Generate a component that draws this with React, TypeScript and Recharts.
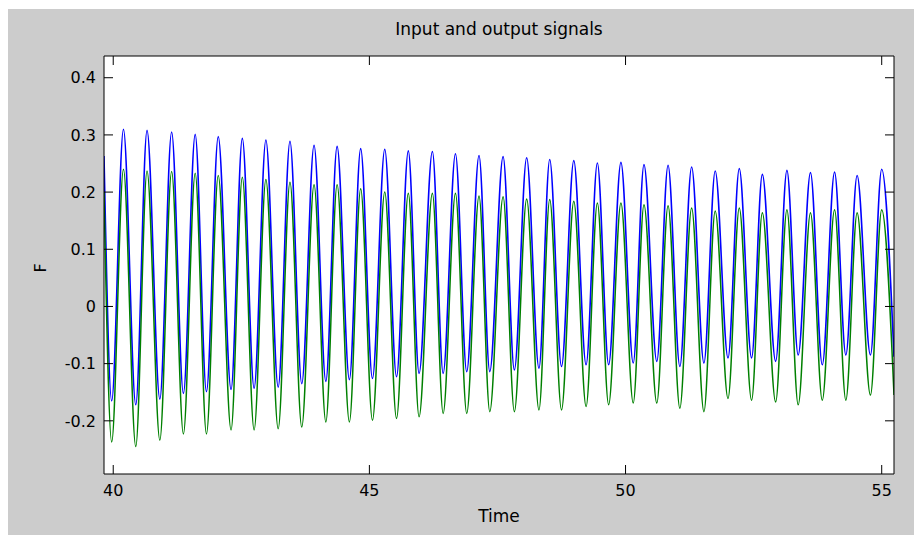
import React from 'react';
import { LineChart, Line, XAxis, YAxis, CartesianGrid } from 'recharts';

// Turning points (peaks / troughs), time in seconds
const times = [
  39.82, 39.97, 40.2, 40.44, 40.66, 40.91, 41.14, 41.37, 41.6, 41.82, 42.05, 42.3, 42.52, 42.75, 42.98,
  43.22, 43.45, 43.68, 43.92, 44.15, 44.37, 44.61, 44.83, 45.06, 45.3, 45.53, 45.76, 45.97, 46.23, 46.44,
  46.68, 46.9, 47.14, 47.35, 47.61, 47.83, 48.07, 48.31, 48.52, 48.75, 48.99, 49.23, 49.45, 49.67, 49.91,
  50.15, 50.36, 50.61, 50.83, 51.06, 51.29, 51.53, 51.75, 52.0, 52.22, 52.46, 52.67, 52.93, 53.15, 53.37,
  53.61, 53.84, 54.08, 54.3, 54.52, 54.78, 55.0, 55.24,
];

const inputSignal = [
  0.263,
  -0.165, 0.31, -0.172, 0.308, -0.162, 0.305, -0.152, 0.301, -0.149, 0.297, -0.145, 0.294,
  -0.143, 0.291, -0.141, 0.289, -0.135, 0.282, -0.131, 0.28, -0.128, 0.276, -0.126, 0.275,
  -0.123, 0.272, -0.117, 0.271, -0.117, 0.267, -0.114, 0.264, -0.114, 0.262, -0.111, 0.26,
  -0.108, 0.257, -0.105, 0.255, -0.102, 0.251, -0.102, 0.252, -0.099, 0.248, -0.096, 0.247,
  -0.105, 0.244, -0.099, 0.237, -0.09, 0.241, -0.09, 0.231, -0.096, 0.238, -0.085, 0.234,
  -0.102, 0.235, -0.085, 0.229, -0.085, 0.24,
  -0.088,
];

const outputSignal = [
  0.2,
  -0.237, 0.24, -0.245, 0.237, -0.234, 0.236, -0.223, 0.233, -0.223, 0.229, -0.216, 0.226,
  -0.216, 0.222, -0.214, 0.217, -0.211, 0.213, -0.202, 0.213, -0.202, 0.206, -0.199, 0.2,
  -0.196, 0.198, -0.193, 0.198, -0.187, 0.198, -0.187, 0.193, -0.184, 0.192, -0.184, 0.188,
  -0.181, 0.187, -0.181, 0.184, -0.175, 0.181, -0.172, 0.181, -0.169, 0.178, -0.169, 0.176,
  -0.178, 0.172, -0.184, 0.167, -0.161, 0.172, -0.164, 0.164, -0.167, 0.169, -0.172, 0.164,
  -0.164, 0.169, -0.164, 0.164, -0.155, 0.169,
  -0.155,
];

const xTicks = [40, 45, 50, 55];
const yTicks = [-0.2, -0.1, 0, 0.1, 0.2, 0.3, 0.4];
const xDomain = [39.82, 55.24];
const yDomain = [-0.293, 0.438];

const titleText = 'Input and output signals';
const xLabelText = 'Time';
const yLabelText = 'F';

const data = times.map((t, i) => ({ t, input: inputSignal[i], output: outputSignal[i] }));

const FONT = '"DejaVu Sans", sans-serif';
const tickStyle = { fontFamily: FONT, fontSize: 16, fill: '#000' };
const labelStyle = { fontFamily: FONT, fontSize: 17, fill: '#000' };

const yFmt = (v: number) => (Math.abs(v) < 1e-9 ? '0' : v.toFixed(1));
const blank = () => '';

const YLabel = (props: any) => {
  const vb = props.viewBox || {};
  const cx = vb.x - 4;
  const cy = vb.y + vb.height / 2 + 3;
  return (
    <text
      x={cx}
      y={cy}
      transform={`rotate(-90 ${cx} ${cy})`}
      textAnchor="middle"
      dominantBaseline="central"
      fontFamily={FONT}
      fontSize={16}
      fill="#000"
    >
      {yLabelText}
    </text>
  );
};

export default function App() {
  return (
    <div style={{ marginTop: 1, width: 914, height: 526, background: '#cccccc' }}>
      <LineChart
        width={914}
        height={526}
        data={data}
        margin={{ top: 37, right: 18, bottom: 11, left: 36 }}
      >
        <CartesianGrid horizontal={false} vertical={false} fill="#ffffff" stroke="none" />
        <XAxis
          xAxisId="bottom"
          dataKey="t"
          type="number"
          domain={xDomain}
          allowDataOverflow
          ticks={xTicks}
          interval={0}
          orientation="bottom"
          height={50}
          tickSize={-9}
          tickMargin={20}
          stroke="#000"
          tick={tickStyle}
          tickLine={{ stroke: '#000' }}
          axisLine={{ stroke: '#000' }}
          label={{ value: xLabelText, position: 'insideBottom', offset: 2, style: labelStyle }}
        />
        <XAxis
          xAxisId="top"
          dataKey="t"
          type="number"
          domain={xDomain}
          allowDataOverflow
          ticks={xTicks}
          interval={0}
          orientation="top"
          height={10}
          tickSize={-9}
          tickFormatter={blank}
          stroke="#000"
          tickLine={{ stroke: '#000' }}
          axisLine={{ stroke: '#000' }}
          label={{ value: titleText, position: 'top', offset: 11, style: labelStyle }}
        />
        <YAxis
          yAxisId="left"
          type="number"
          domain={yDomain}
          allowDataOverflow
          ticks={yTicks}
          interval={0}
          orientation="left"
          width={60}
          tickSize={-9}
          tickMargin={17}
          tickFormatter={yFmt}
          stroke="#000"
          tick={tickStyle}
          tickLine={{ stroke: '#000' }}
          axisLine={{ stroke: '#000' }}
          label={{ content: YLabel }}
        />
        <YAxis
          yAxisId="right"
          type="number"
          domain={yDomain}
          allowDataOverflow
          ticks={yTicks}
          interval={0}
          orientation="right"
          width={10}
          tickSize={-9}
          tickFormatter={blank}
          stroke="#000"
          tickLine={{ stroke: '#000' }}
          axisLine={{ stroke: '#000' }}
        />
        <Line
          xAxisId="bottom"
          yAxisId="left"
          dataKey="input"
          type="monotone"
          stroke="#0000ff"
          strokeWidth={1.6}
          dot={false}
          isAnimationActive={false}
        />
        <Line
          xAxisId="bottom"
          yAxisId="left"
          dataKey="output"
          type="monotone"
          stroke="#008000"
          strokeWidth={1.5}
          dot={false}
          isAnimationActive={false}
        />
      </LineChart>
    </div>
  );
}
